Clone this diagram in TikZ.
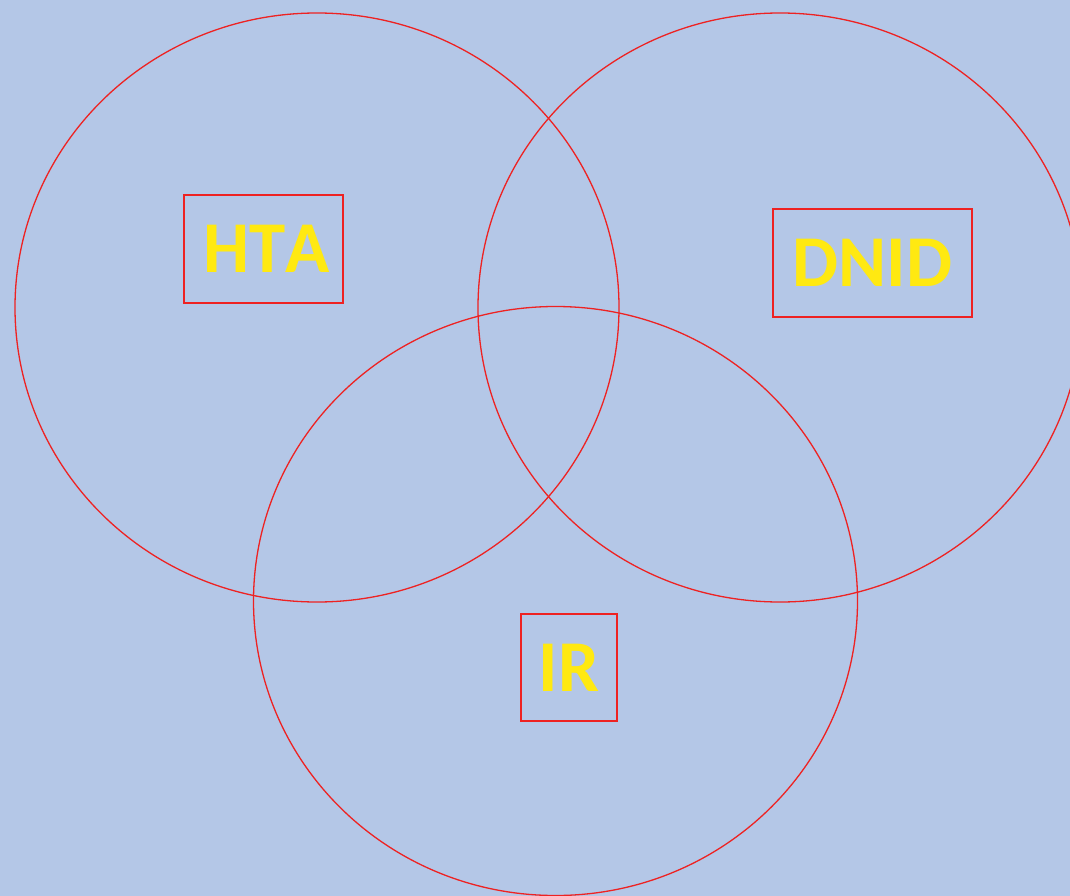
\documentclass[tikz,border=0pt]{standalone}
\usepackage{fontspec}
\setmainfont{Carlito}[Kerning=Off]
\definecolor{bg}{HTML}{B4C7E7}
\definecolor{ln}{HTML}{EE2222}
\definecolor{tx}{HTML}{FFE911}
\begin{document}
\begin{tikzpicture}[x=1pt,y=-1pt,
  venn/.style={draw=ln,line width=1.3pt},
  lbl/.style={draw=ln,line width=1.3pt,text=tx,font=\fontsize{73}{73}\selectfont\bfseries,inner sep=0pt,anchor=center}]
\fill[bg] (0,0) rectangle (1070,896);
\useasboundingbox (0,0) rectangle (1070,896);
\clip (0,0) rectangle (1070,896);
\draw[venn] (317,307.5) ellipse [x radius=302, y radius=294.5];
\draw[venn] (780,307.5) ellipse [x radius=302, y radius=294.5];
\draw[venn] (555.5,601) ellipse [x radius=302, y radius=294.5];
\node[lbl,minimum width=159pt,minimum height=108pt,text width=159pt,align=center] (hta) at (263.5,249) {\hspace*{6pt}HTA};
\node[lbl,minimum width=199pt,minimum height=108pt] (dnid) at (872.5,263) {DNID};
\node[lbl,minimum width=96pt,minimum height=107pt] (ir) at (569,667.5) {IR};
\end{tikzpicture}
\end{document}
